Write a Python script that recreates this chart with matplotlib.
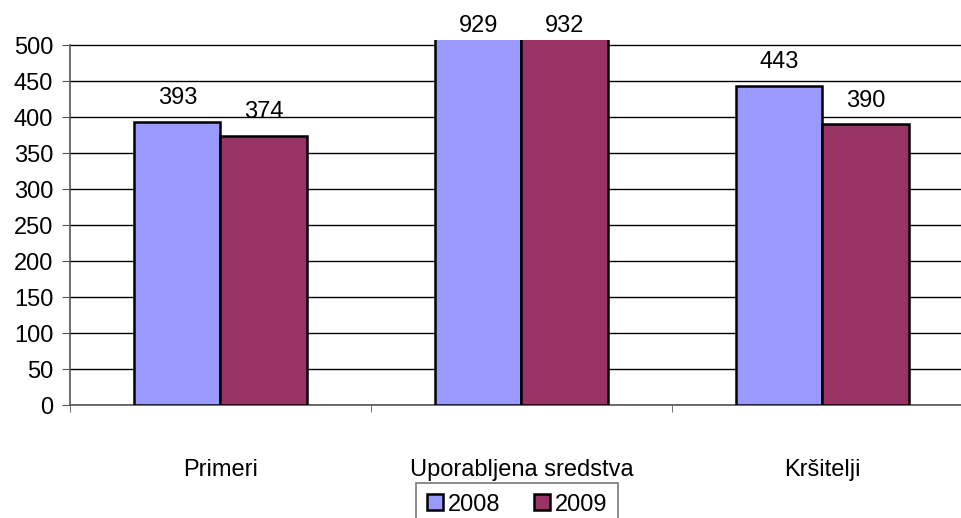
import matplotlib.pyplot as plt
import numpy as np

# data
categories = ["Primeri", "Uporabljena sredstva", "Kršitelji"]
series_names = ["2008", "2009"]
values_2008 = [393, 929, 443]
values_2009 = [374, 932, 390]
colors = ["#9999FF", "#993366"]

plt.rcParams["font.family"] = ["Liberation Sans", "DejaVu Sans"]
fs = 17

fig = plt.figure(figsize=(9.62, 5.18), dpi=100)
# plot area runs past the right edge like in the original;
# y range a bit above 500 so the clipped bars poke over the top gridline
ymax = 507
ax = fig.add_axes([70 / 962, 1 - 405 / 518, 903 / 962, 365 / 518])

x = np.arange(len(categories))
w = 0.286
for i, (vals, col) in enumerate(zip([values_2008, values_2009], colors)):
    pos = x + (i - 0.5) * w
    ax.bar(pos, vals, w, color=col, edgecolor="black", linewidth=1.8,
           label=series_names[i], zorder=3)
    for p, v in zip(pos, vals):
        if v > ymax:
            ax.annotate(str(v), (p, ymax), xytext=(0, 10), textcoords="offset points",
                        ha="center", va="center", fontsize=fs, annotation_clip=False)
        else:
            ax.annotate(str(v), (p, v), xytext=(0, 17), textcoords="offset points",
                        ha="center", va="center", fontsize=fs, annotation_clip=False)

ax.set_xlim(-0.5, len(categories) - 0.5)
ax.set_ylim(0, ymax)
ax.set_yticks(range(0, 501, 50))
ax.yaxis.grid(True, color="black", linewidth=1)
ax.set_axisbelow(True)

ax.set_xticks(x)
ax.set_xticklabels(categories, fontsize=fs)
ax.set_xticks(np.arange(len(categories) + 1) - 0.5, minor=True)
ax.tick_params(axis="x", which="major", length=0, pad=39)
ax.tick_params(axis="x", which="minor", length=5, direction="out", color="#555555")
ax.tick_params(axis="y", labelsize=fs, length=6, color="#555555", pad=6)

for s in ["top", "right"]:
    ax.spines[s].set_visible(False)
ax.spines["left"].set_bounds(0, 500)
ax.spines["left"].set_color("#555555")
ax.spines["bottom"].set_color("#555555")
ax.spines["left"].set_linewidth(1.2)
ax.spines["bottom"].set_linewidth(1.2)

leg = fig.legend(loc="upper center", bbox_to_anchor=(517 / 962, 1 - 483 / 518), ncol=2,
                 fontsize=fs, frameon=True, fancybox=False, edgecolor="#555555",
                 handlelength=0.68, handleheight=0.68, handletextpad=0.2,
                 columnspacing=1.45, borderpad=0.45, borderaxespad=0)
leg.get_frame().set_linewidth(1.2)

fig.savefig("out.png", dpi=100)
